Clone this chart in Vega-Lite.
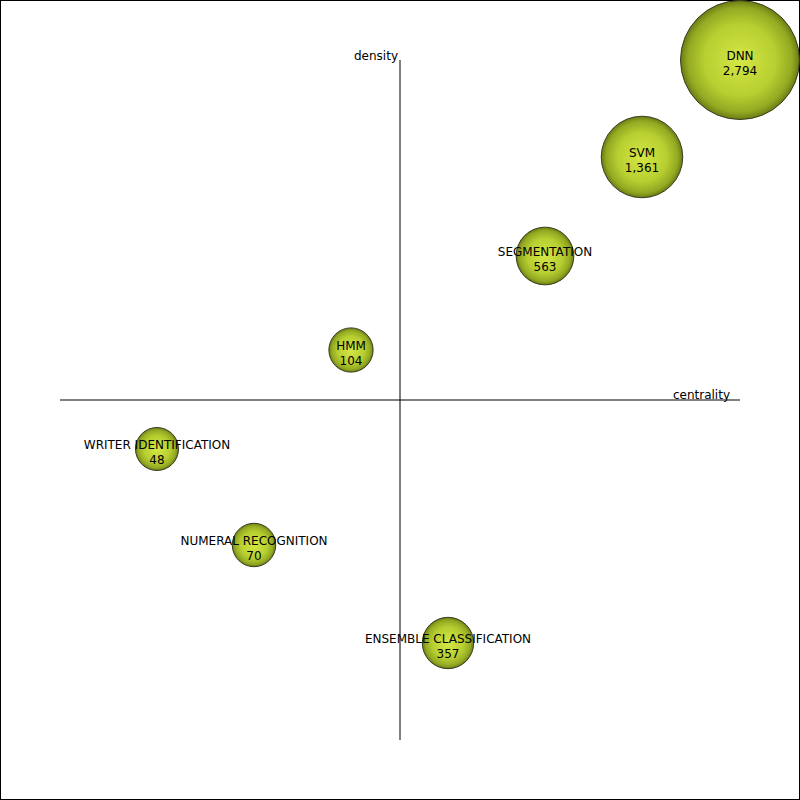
{
  "$schema": "https://vega.github.io/schema/vega-lite/v6.json",
  "width": 800,
  "height": 800,
  "padding": 0,
  "autosize": {"type": "none"},
  "background": "white",
  "view": {"stroke": "black", "strokeWidth": 2},
  "config": {"text": {"font": "DejaVu Sans", "fontSize": 12, "color": "black"}},
  "datasets": {
    "themes": [
      {"theme": "DNN", "docs": 2794, "centrality": 0.85, "density": 0.85},
      {"theme": "SVM", "docs": 1361, "centrality": 0.605, "density": 0.6075},
      {"theme": "SEGMENTATION", "docs": 563, "centrality": 0.3625, "density": 0.36},
      {"theme": "HMM", "docs": 104, "centrality": -0.1225, "density": 0.125},
      {"theme": "WRITER IDENTIFICATION", "docs": 48, "centrality": -0.6075, "density": -0.1225},
      {"theme": "NUMERAL RECOGNITION", "docs": 70, "centrality": -0.365, "density": -0.3625},
      {"theme": "ENSEMBLE CLASSIFICATION", "docs": 357, "centrality": 0.12, "density": -0.6075}
    ],
    "axes": [
      {"axis": "centrality", "x": -0.85, "x2": 0.85, "y": 0, "y2": 0},
      {"axis": "density", "x": 0, "x2": 0, "y": -0.85, "y2": 0.85}
    ],
    "axislabels": [
      {"label": "density", "x": 0, "y": 0.85},
      {"label": "centrality", "x": 0.85, "y": 0}
    ]
  },
  "layer": [
    {
      "data": {"name": "axes"},
      "mark": {"type": "rule", "color": "black", "strokeWidth": 1},
      "encoding": {
        "x": {"field": "x", "type": "quantitative", "scale": {"domain": [-1, 1]}, "axis": null},
        "x2": {"field": "x2"},
        "y": {"field": "y", "type": "quantitative", "scale": {"domain": [-1, 1]}, "axis": null},
        "y2": {"field": "y2"}
      }
    },
    {
      "data": {"name": "axislabels"},
      "transform": [{"filter": "datum.label == 'density'"}],
      "mark": {"type": "text", "align": "right", "baseline": "alphabetic", "dx": -2, "dy": 0},
      "encoding": {
        "x": {"field": "x", "type": "quantitative", "scale": {"domain": [-1, 1]}, "axis": null},
        "y": {"field": "y", "type": "quantitative", "scale": {"domain": [-1, 1]}, "axis": null},
        "text": {"field": "label"}
      }
    },
    {
      "data": {"name": "axislabels"},
      "transform": [{"filter": "datum.label == 'centrality'"}],
      "mark": {"type": "text", "align": "right", "baseline": "alphabetic", "dx": -10, "dy": -1},
      "encoding": {
        "x": {"field": "x", "type": "quantitative", "scale": {"domain": [-1, 1]}, "axis": null},
        "y": {"field": "y", "type": "quantitative", "scale": {"domain": [-1, 1]}, "axis": null},
        "text": {"field": "label"}
      }
    },
    {
      "data": {"name": "themes"},
      "mark": {
        "type": "point",
        "shape": "circle",
        "filled": true,
        "opacity": 1,
        "stroke": "#3a3d22",
        "strokeWidth": 1,
        "fill": {
          "gradient": "radial",
          "x1": 0.5, "y1": 0.5, "r1": 0,
          "x2": 0.5, "y2": 0.5, "r2": 0.5,
          "stops": [
            {"offset": 0, "color": "#d4e746"},
            {"offset": 0.6, "color": "#b8cf31"},
            {"offset": 0.88, "color": "#93a922"},
            {"offset": 1, "color": "#6c7a13"}
          ]
        }
      },
      "encoding": {
        "x": {"field": "centrality", "type": "quantitative", "scale": {"domain": [-1, 1]}, "axis": null},
        "y": {"field": "density", "type": "quantitative", "scale": {"domain": [-1, 1]}, "axis": null},
        "size": {"field": "docs", "type": "quantitative", "scale": {"type": "pow", "exponent": 1.3, "domain": [48, 2794], "range": [1849, 14161]}, "legend": null}
      }
    },
    {
      "data": {"name": "themes"},
      "mark": {"type": "text", "align": "center", "baseline": "middle", "dy": -4},
      "encoding": {
        "x": {"field": "centrality", "type": "quantitative", "scale": {"domain": [-1, 1]}, "axis": null},
        "y": {"field": "density", "type": "quantitative", "scale": {"domain": [-1, 1]}, "axis": null},
        "text": {"field": "theme"}
      }
    },
    {
      "data": {"name": "themes"},
      "mark": {"type": "text", "align": "center", "baseline": "middle", "dy": 11},
      "encoding": {
        "x": {"field": "centrality", "type": "quantitative", "scale": {"domain": [-1, 1]}, "axis": null},
        "y": {"field": "density", "type": "quantitative", "scale": {"domain": [-1, 1]}, "axis": null},
        "text": {"field": "docs", "type": "quantitative", "format": ",d"}
      }
    }
  ]
}
